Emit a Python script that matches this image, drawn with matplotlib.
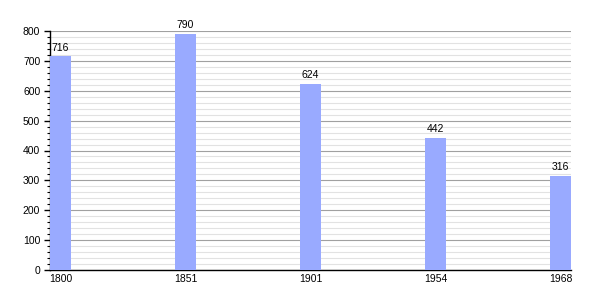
import matplotlib
matplotlib.use("Agg")
import matplotlib.pyplot as plt
import numpy as np

years = ["1800", "1851", "1901", "1954", "1968"]
values = [716, 790, 624, 442, 316]

plt.rcParams['font.family'] = ['Liberation Sans', 'DejaVu Sans']

fig = plt.figure(figsize=(6, 3), dpi=100)
ax = fig.add_axes([50/600, 30/300, 521/600, 239/300])

w = 0.168
x = np.arange(len(years))
bars = ax.bar(x, values, width=w, align='edge', color='#99aaff', zorder=3)
for xi, v in zip(x, values):
    ax.text(xi + w/2, v + 12, str(v), ha='center', va='bottom', fontsize=7.5, zorder=4)

ax.set_xlim(0, len(years) - 1 + w)
ax.set_ylim(0, 800)
ax.set_xticks(x + w/2)
ax.set_xticklabels(years, fontsize=7.5)
ax.tick_params(axis='x', length=0, pad=3)
ax.set_yticks(np.arange(0, 801, 100))
ax.set_yticks(np.arange(0, 801, 20), minor=True)
ax.tick_params(axis='y', which='major', length=4, width=1, labelsize=7.5, pad=3)
ax.tick_params(axis='y', which='minor', length=2.5, width=0.8)
ax.grid(axis='y', which='major', color='#a0a0a0', linewidth=0.8, zorder=1)
ax.grid(axis='y', which='minor', color='#e2e2e2', linewidth=0.8, zorder=0)
for s in ['top', 'right']:
    ax.spines[s].set_visible(False)
ax.spines['left'].set_linewidth(1)
ax.spines['bottom'].set_linewidth(1)
ax.set_axisbelow(True)

fig.savefig("out.png", dpi=100)
